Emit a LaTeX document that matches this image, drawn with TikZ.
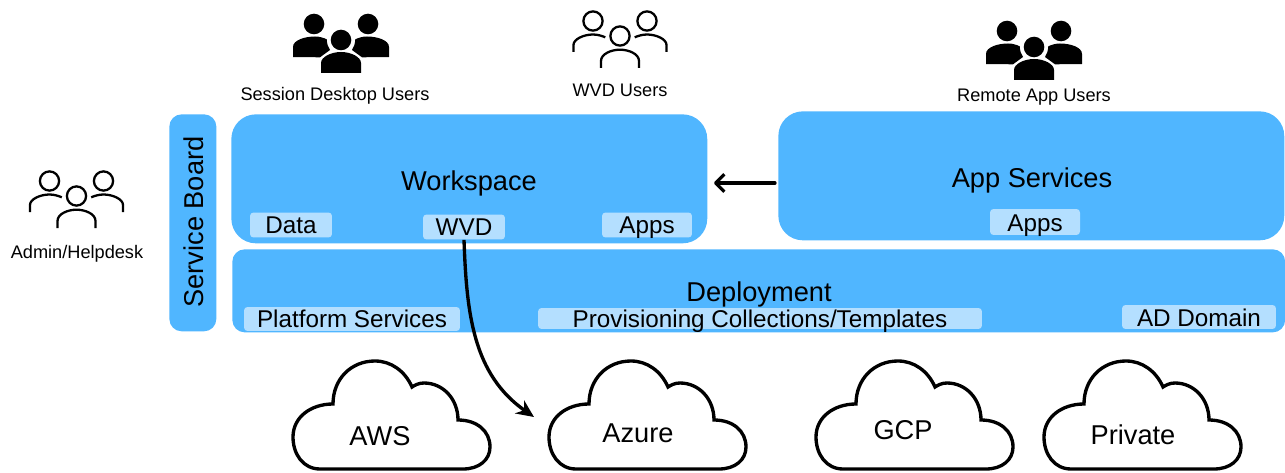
\documentclass[tikz,border=0pt]{standalone}
\usepackage{fontspec}
\setmainfont{Liberation Sans}
\usetikzlibrary{arrows.meta}
\definecolor{panelblue}{HTML}{50B6FF}
\definecolor{chipblue}{HTML}{B4DFFF}
\tikzset{
  panel/.style={fill=panelblue,rounded corners=#1,inner sep=0pt,anchor=north west},
  panel/.default=14pt,
  chip/.style={fill=chipblue,rounded corners=2pt,inner sep=0pt,anchor=center,text height=9.8pt,text depth=0pt,font=\fontsize{13.8}{14}\selectfont},
  bigtext/.style={font=\fontsize{15.5}{16}\selectfont},
  smalltext/.style={font=\fontsize{10.35}{11}\selectfont},
  cloudtext/.style={font=\fontsize{15.5}{16}\selectfont},
  flow/.style={line width=1.9pt,-{Stealth[length=10pt,width=9pt]}},
  backflow/.style={line width=1.8pt,line cap=round,-{Straight Barb[length=5pt,width=10pt,line join=round]}},
  pics/filledusers/.style={code={
    \fill (-27,-16) circle (10.3);
    \fill (27,-16) circle (10.3);
    \fill (0,0) circle (10.3);
    \fill (-48,17) -- (-48,7) .. controls (-48,0) and (-36,-3.5) .. (-26,-3.5) .. controls (-21,-3.5) and (-17,-2) .. (-14.3,-0.7) .. controls (-14,4) and (-13,7) .. (-11,10) -- (-21,17.3) -- cycle;
    \fill (48,17) -- (48,7) .. controls (48,0) and (36,-3.5) .. (26,-3.5) .. controls (21,-3.5) and (17,-2) .. (14.3,-0.7) .. controls (14,4) and (13,7) .. (11,10) -- (21,17.3) -- cycle;
    \fill (-20,33) -- (-20,23) .. controls (-20,17) and (-10,12) .. (0,12) .. controls (10,12) and (20,17) .. (20,23) -- (20,33) -- cycle;
  }},
  pics/outlineusers/.style={code={
    \begin{scope}[line width=1.3pt]
    \draw (-27,-15) circle (9.6);
    \draw (27,-15) circle (9.6);
    \draw (0,0) circle (9.6);
    \draw (-46.5,16) -- (-46.5,9) .. controls (-46.5,3) and (-36,-1.5) .. (-27,-1.5) .. controls (-22,-1.5) and (-18,0) .. (-14.7,1.3);
    \draw (46.5,16) -- (46.5,9) .. controls (46.5,3) and (36,-1.5) .. (27,-1.5) .. controls (22,-1.5) and (18,0) .. (14.7,1.3);
    \draw (-19,32) -- (-19,25) .. controls (-19,18) and (-9,13.7) .. (0,13.7) .. controls (9,13.7) and (19,18) .. (19,25) -- (19,32);
    \end{scope}
  }},
  pics/cloudicon/.style={code={
    \draw[line width=1.9pt] (27,108) .. controls (10,108) and (0,93) .. (0,76) .. controls (0,56) and (18,43) .. (40,43) .. controls (40,18) and (58,0) .. (82,0) .. controls (98,0) and (112,10) .. (119,26) .. controls (122,24) and (126,22) .. (131,22) .. controls (150,22) and (165,38) .. (165,59) .. controls (184,59) and (197,70) .. (197,86) .. controls (197,99) and (186,108) .. (170,108) -- cycle;
  }}
}
\begin{document}
\begin{tikzpicture}[x=0.02cm,y=-0.02cm]
\useasboundingbox (0,0) rectangle (1285,473);

% panels
\node[panel=7pt,minimum width=0.94cm,minimum height=4.34cm] (board) at (169,114) {};
\node[rotate=90,bigtext] (boardlabel) at (194,222) {Service Board};
\node[panel,minimum width=9.52cm,minimum height=2.58cm] (workspace) at (231,114) {};
\node[bigtext] (workspacelabel) at (469,183) {Workspace};
\node[panel,minimum width=10.12cm,minimum height=2.58cm] (appservices) at (778,111) {};
\node[bigtext] (appserviceslabel) at (1032,180) {App Services};
\node[panel=7pt,minimum width=21.06cm,minimum height=1.66cm] (deployment) at (232,249) {};
\node[bigtext] (deploymentlabel) at (759,294) {Deployment};

% chips
\node[chip,minimum width=1.64cm,minimum height=0.5cm] (data) at (291,225) {Data};
\node[chip,minimum width=1.64cm,minimum height=0.5cm] (wvd) at (464,227) {WVD};
\node[chip,minimum width=1.8cm,minimum height=0.5cm] (apps) at (647,225) {Apps};
\node[chip,text height=11pt,minimum width=1.8cm,minimum height=0.52cm] (remoteapps) at (1035,222) {Apps};
\node[chip,minimum width=4.32cm,minimum height=0.48cm] (platform) at (352,319) {Platform Services};
\node[chip,minimum width=8.88cm,minimum height=0.42cm] (provisioning) at (760,318.5) {Provisioning Collections/Templates};
\node[chip,text height=11pt,minimum width=3.08cm,minimum height=0.48cm] (addomain) at (1199,317) {AD Domain};

% users
\pic at (341,40) {filledusers};
\node[smalltext] (sessionusers) at (335,96) {Session Desktop Users};
\pic at (620,36) {outlineusers};
\node[smalltext] (wvdusers) at (620,90) {WVD Users};
\pic at (1034,47) {filledusers};
\node[smalltext] (remoteusers) at (1034,97) {Remote App Users};
\pic at (76.5,196) {outlineusers};
\node[smalltext] (adminusers) at (77,254) {Admin/Helpdesk};

% clouds
\pic at (293,361) {cloudicon};
\node[cloudtext] (aws) at (380,436) {AWS};
\pic at (549,361) {cloudicon};
\node[cloudtext] (azure) at (638,433) {Azure};
\pic at (816,361) {cloudicon};
\node[cloudtext] (gcp) at (903,430) {GCP};
\pic at (1044,361) {cloudicon};
\node[cloudtext] (private) at (1133,435) {Private};

% connectors
\coordinate (azurein) at (534,417);
\draw[backflow,shorten <=3*0.567pt] (appservices.west |- 0,183) -- (714,183);
\draw[flow] (wvd.south) to[out=-88,in=145] (azurein);
\end{tikzpicture}
\end{document}
